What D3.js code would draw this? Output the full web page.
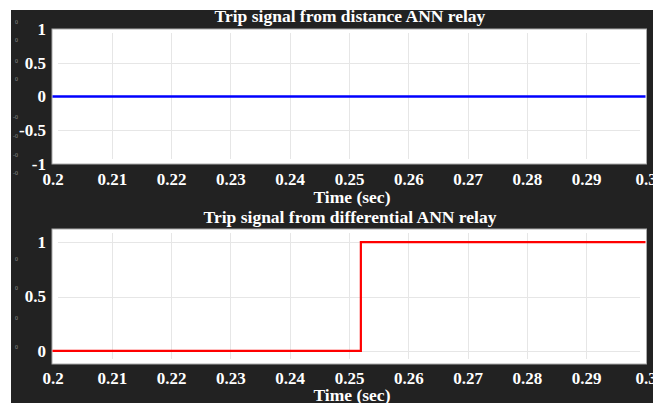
<!DOCTYPE html>
<html><head><meta charset="utf-8">
<script src="https://cdn.jsdelivr.net/npm/d3@7"></script>
<style>
html,body{margin:0;padding:0;background:#fff;}
svg{display:block;}
text{font-family:"Liberation Serif","Times New Roman",serif;font-weight:bold;}
</style></head>
<body>
<script>
// Data
const xTicks = [0.2,0.21,0.22,0.23,0.24,0.25,0.26,0.27,0.28,0.29,0.3];
const xTickLabels = ["0.2","0.21","0.22","0.23","0.24","0.25","0.26","0.27","0.28","0.29","0.3"];
const topTime = [0.2, 0.3];
const topSignal = [0, 0];
const topYTicks = [1, 0.5, 0, -0.5, -1];
const topYTickLabels = ["1","0.5","0","-0.5","-1"];
const botTime = [0.2, 0.252, 0.3];
const botSignal = [0, 1, 1];
const botYTicks = [1, 0.5, 0];
const botYTickLabels = ["1","0.5","0"];
const titles = ["Trip signal from distance ANN relay","Trip signal from differential ANN relay"];
const xLabel = "Time (sec)";

const W = 653, H = 403;
const svg = d3.select("body").append("svg").attr("width", W).attr("height", H);
svg.append("rect").attr("x",11).attr("y",10).attr("width",W-11).attr("height",H-10).attr("fill","#222222");

// faint artifacts at left edge
const artTop = [[22,"0"],[40,"0"],[61,"0"],[79,"0"],[117,"-0"],[136,"-0"],[155,"-0"],[173,"-0"]];
const artBot = [[259,"0"],[288,"0"],[318,"0"],[347,"0"]];
artTop.concat(artBot).forEach(([y,t])=>{
  svg.append("text").attr("x",18).attr("y",y+2).attr("text-anchor","end")
    .attr("font-size",6).attr("fill","#888").style("font-weight","normal").text(t);
});

function panel(cfg){
  const x = d3.scaleLinear().domain([0.2,0.3]).range([52.5,645.5]);
  const y = d3.scaleLinear().domain(cfg.ydom).range([cfg.y1, cfg.y0]);
  const g = svg.append("g");
  g.append("rect").attr("x",52).attr("y",cfg.y0).attr("width",594.5).attr("height",cfg.y1-cfg.y0)
    .attr("fill","#fff").attr("stroke","#aaa").attr("stroke-width",1);
  // grid
  g.selectAll(".vg").data(xTicks.slice(1,-1)).enter().append("line")
    .attr("x1",d=>Math.round(x(d))+0.5).attr("x2",d=>Math.round(x(d))+0.5)
    .attr("y1",cfg.y0+4).attr("y2",cfg.y1-5).attr("stroke","#e6e6e6").attr("stroke-width",1);
  g.selectAll(".hg").data(cfg.grid).enter().append("line")
    .attr("x1",58).attr("x2",640)
    .attr("y1",d=>Math.round(y(d))+0.5).attr("y2",d=>Math.round(y(d))+0.5)
    .attr("stroke","#e6e6e6").attr("stroke-width",1);
  // axes labels
  const xAxis = d3.axisBottom(x).tickValues(xTicks).tickFormat((d,i)=>xTickLabels[i]).tickSize(0).tickPadding(0);
  const xg = g.append("g").attr("transform",`translate(0,${cfg.y1})`).call(xAxis);
  xg.select(".domain").remove();
  xg.selectAll("text").attr("fill","#fff").attr("font-size",17)
    .attr("font-family","Liberation Serif, serif").attr("font-weight","bold").attr("dy",null).attr("y",cfg.xlabY-cfg.y1);
  const yAxis = d3.axisLeft(y).tickValues(cfg.yticks).tickFormat((d,i)=>cfg.ylabels[i]).tickSize(0).tickPadding(6);
  const yg = g.append("g").attr("transform","translate(52,0)").call(yAxis);
  yg.select(".domain").remove();
  yg.selectAll("text").attr("fill","#fff").attr("font-size",17)
    .attr("font-family","Liberation Serif, serif").attr("font-weight","bold");
  // line
  const line = d3.line().x(d=>x(d[0])).y(d=>y(d[1])).curve(cfg.curve);
  g.append("path").datum(cfg.t.map((t,i)=>[t,cfg.v[i]]))
    .attr("d",line).attr("fill","none").attr("stroke",cfg.color).attr("stroke-width",cfg.lw);
  // title & xlabel
  g.append("text").attr("x",350).attr("y",cfg.titleY).attr("text-anchor","middle")
    .attr("fill","#fff").attr("font-size",17.5).text(cfg.title);
  g.append("text").attr("x",352).attr("y",cfg.xtitleY).attr("text-anchor","middle")
    .attr("fill","#fff").attr("font-size",17.5).text(xLabel);
}

panel({y0:29, y1:164, ydom:[-1,1], yticks:topYTicks, ylabels:topYTickLabels, grid:[0.5,-0.5],
  t:topTime, v:topSignal, color:"#0000ff", lw:2.5, curve:d3.curveLinear,
  title:titles[0], titleY:22, xlabY:185, xtitleY:203});
panel({y0:229, y1:364, ydom:[-0.12,1.12], yticks:botYTicks, ylabels:botYTickLabels, grid:[1,0.5,0],
  t:botTime, v:botSignal, color:"#ff0000", lw:2.2, curve:d3.curveStepAfter,
  title:titles[1], titleY:223, xlabY:384, xtitleY:401});
</script>
</body></html>
